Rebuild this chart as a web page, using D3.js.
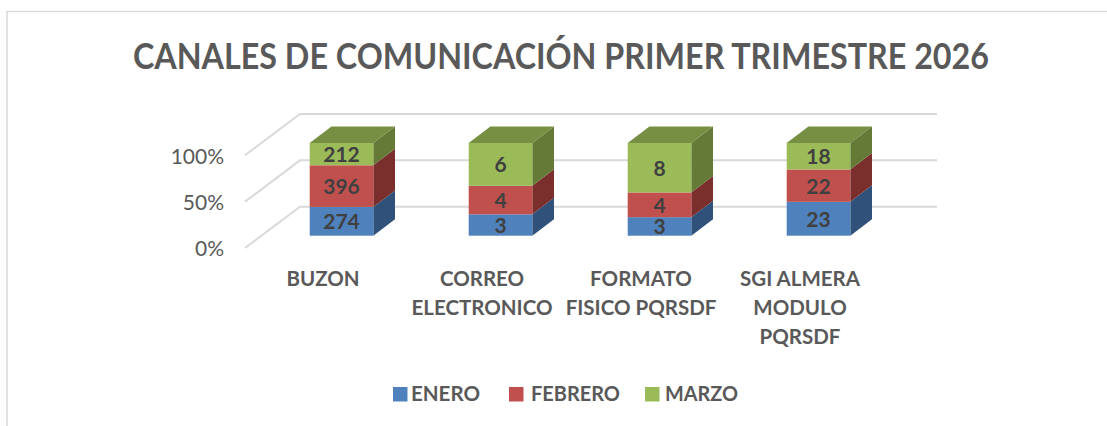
<!DOCTYPE html>
<html>
<head>
<meta charset="utf-8">
<script src="https://cdn.jsdelivr.net/npm/d3@7"></script>
<style>
  html, body { margin: 0; padding: 0; background: #fff; }
  svg { display: block; }
  text { font-family: Lato, "Open Sans", sans-serif; }
</style>
</head>
<body>
<script>
// SVG Size
var width = 1107,
    height = 426;

// Chart values
var chartTitle = "CANALES DE COMUNICACIÓN PRIMER TRIMESTRE 2026";
var categories = ["BUZON", "CORREO ELECTRONICO", "FORMATO FISICO PQRSDF", "SGI ALMERA MODULO PQRSDF"];
var categoryLines = [["BUZON"], ["CORREO", "ELECTRONICO"], ["FORMATO", "FISICO PQRSDF"], ["SGI ALMERA", "MODULO", "PQRSDF"]];
var seriesNames = ["ENERO", "FEBRERO", "MARZO"];
var enero = [274, 3, 3, 23];
var febrero = [396, 4, 4, 22];
var marzo = [212, 6, 8, 18];
var percentTicks = [0, 0.5, 1];

var colors = ["#4f81bd", "#c0504d", "#9bbb59"];
var sideColors = ["#30527a", "#7a2f2d", "#647a36"];
var topColor = "#768f43";

var rows = categories.map(function(c, i) {
  return { name: c, ENERO: enero[i], FEBRERO: febrero[i], MARZO: marzo[i] };
});

var stacked = d3.stack()
  .keys(seriesNames)
  .offset(d3.stackOffsetExpand)(rows);

// Scales
var x = d3.scaleBand()
  .domain(categories)
  .range([262, 898])
  .paddingInner(0.6)
  .paddingOuter(0.3);

var y = d3.scaleLinear().domain([0, 1]).range([235.7, 143]);

// depth of the fake 3d box
var depthX = 21.7,
    depthY = 16.5;

var svg = d3.select("body").append("svg")
  .attr("width", width)
  .attr("height", height);

// Chart frame, only top and left are in the picture
svg.append("path")
  .attr("d", "M7,426V11.5H1107")
  .attr("fill", "none")
  .attr("stroke", "#d9d9d9")
  .attr("stroke-width", 1.5);

// Calibri is narrower than Lato, so squeeze the title to its width
svg.append("text")
  .attr("x", 561)
  .attr("y", 69)
  .attr("text-anchor", "middle")
  .attr("font-size", 36)
  .attr("font-weight", 700)
  .attr("fill", "#595959")
  .attr("textLength", 856)
  .attr("lengthAdjust", "spacingAndGlyphs")
  .text(chartTitle);

// Gridlines: a diagonal on the side wall and then along the back wall
var gridLeft = 245,
    gridBack = 300,
    gridRight = 937,
    gridFront = 12.3,
    gridRise = 41.3;

svg.selectAll(".grid")
  .data(percentTicks)
  .enter().append("polyline")
  .attr("class", "grid")
  .attr("fill", "none")
  .attr("stroke", "#d9d9d9")
  .attr("stroke-width", 2)
  .attr("points", function(d) {
    var frontY = y(d) + gridFront;
    var backY = frontY - gridRise;
    return [gridLeft, frontY, gridBack, backY, gridRight, backY].join(",");
  });

// Axis labels
var yAxis = d3.axisLeft(y.copy().range([235.7 + gridFront, 143 + gridFront]))
  .tickValues(percentTicks)
  .tickFormat(d3.format(".0%"))
  .tickSize(0)
  .tickPadding(0);

var yAxisG = svg.append("g")
  .attr("transform", "translate(224,1)")
  .call(yAxis);
yAxisG.select(".domain").remove();
yAxisG.selectAll("text")
  .attr("font-size", 21)
  .attr("fill", "#595959")
  .style("font-family", "Lato");

// Bars, bottom series first
stacked.forEach(function(layer, s) {
  var g = svg.append("g").attr("class", "series");

  layer.forEach(function(d, i) {
    var x0 = x(categories[i]),
        w = x.bandwidth(),
        yBottom = y(d[0]),
        yTop = y(d[1]);

    g.append("polygon")
      .attr("fill", sideColors[s])
      .attr("points", [x0 + w, yBottom, x0 + w + depthX, yBottom - depthY,
                       x0 + w + depthX, yTop - depthY, x0 + w, yTop].join(","));

    if (s === stacked.length - 1) {
      g.append("polygon")
        .attr("fill", topColor)
        .attr("points", [x0, yTop, x0 + depthX, yTop - depthY,
                         x0 + w + depthX, yTop - depthY, x0 + w, yTop].join(","));
    }

    g.append("rect")
      .attr("x", x0)
      .attr("y", yTop)
      .attr("width", w)
      .attr("height", yBottom - yTop)
      .attr("fill", colors[s]);

    g.append("text")
      .attr("x", x0 + w / 2)
      .attr("y", (yTop + yBottom) / 2 + 8)
      .attr("text-anchor", "middle")
      .attr("font-size", 21)
      .attr("font-weight", 700)
      .attr("fill", "#404040")
      .text(d.data[seriesNames[s]]);
  });
});

// Category labels sit left of the bar centre
var labelShift = -18.5;
categories.forEach(function(c, i) {
  var t = svg.append("text")
    .attr("text-anchor", "middle")
    .attr("font-size", 20.5)
    .attr("font-weight", 700)
    .attr("fill", "#595959");
  categoryLines[i].forEach(function(line, j) {
    t.append("tspan")
      .attr("x", x(c) + x.bandwidth() / 2 + labelShift)
      .attr("y", 286 + j * 29)
      .text(line);
  });
});

// Legend
var legendSwatchX = [393, 509, 645];
var legendTextX = [18, 22, 20];
var legendTextW = [69, 89, 73];
var legend = svg.selectAll(".legend")
  .data(seriesNames)
  .enter().append("g")
  .attr("class", "legend")
  .attr("transform", function(d, i) { return "translate(" + legendSwatchX[i] + ",387)"; });

legend.append("rect")
  .attr("width", 14.5)
  .attr("height", 14.5)
  .attr("fill", function(d, i) { return colors[i]; });

legend.append("text")
  .attr("x", function(d, i) { return legendTextX[i]; })
  .attr("y", 14)
  .attr("font-size", 21)
  .attr("font-weight", 700)
  .attr("fill", "#595959")
  .attr("textLength", function(d, i) { return legendTextW[i]; })
  .attr("lengthAdjust", "spacingAndGlyphs")
  .text(function(d) { return d; });
</script>
</body>
</html>
